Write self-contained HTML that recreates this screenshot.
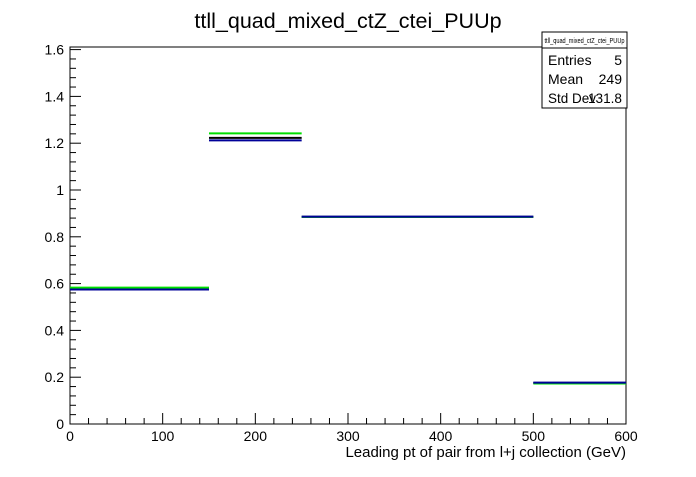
<!DOCTYPE html>
<html><head><meta charset="utf-8"><style>
body{margin:0;background:#fff;width:696px;height:472px;overflow:hidden}
svg text{font-family:"Liberation Sans",Arial,sans-serif}
</style></head><body>
<svg id="c" width="696" height="472" xmlns="http://www.w3.org/2000/svg">
<text x="348" y="28" font-size="21.5" text-anchor="middle">ttll_quad_mixed_ctZ_ctei_PUUp</text>
<rect x="70" y="47" width="556" height="377" fill="none" stroke="#000" stroke-width="1"/>
<g id="axes"></g>
<g id="marks"></g>
<text x="626" y="457" font-size="15" text-anchor="end">Leading pt of pair from l+j collection (GeV)</text>
<g>
<rect x="542" y="32" width="85" height="76" fill="#fff" stroke="#000"/>
<line x1="542" y1="48" x2="627" y2="48" stroke="#000"/>
<text x="584.5" y="43" font-size="7.5" text-anchor="middle" textLength="80" lengthAdjust="spacingAndGlyphs">ttll_quad_mixed_ctZ_ctei_PUUp</text>
<text x="548" y="65" font-size="14">Entries</text><text x="622" y="65" font-size="14" text-anchor="end">5</text>
<text x="548" y="84" font-size="14">Mean</text><text x="622" y="84" font-size="14" text-anchor="end">249</text>
<text x="548" y="103" font-size="14" textLength="48" lengthAdjust="spacingAndGlyphs">Std Dev</text><text x="622" y="103" font-size="14" text-anchor="end" textLength="34" lengthAdjust="spacingAndGlyphs">131.8</text>
</g>
</svg>
<script>
const binEdges=[0,150,250,500,600];
const blackVals=[0.578,1.223,0.885,0.176];
const greenVals=[0.583,1.242,0.885,0.173];
const blueVals=[0.575,1.212,0.886,0.177];
const xTicks=[0,100,200,300,400,500,600];
const yTicks=[0,0.2,0.4,0.6,0.8,1,1.2,1.4,1.6];
const yTickLabels=["0","0.2","0.4","0.6","0.8","1","1.2","1.4","1.6"];
const NS="http://www.w3.org/2000/svg";
const X=v=>70+v*(556/600);
const Y=v=>424-v*234;
function mk(t,a,p){const e=document.createElementNS(NS,t);for(const k in a)e.setAttribute(k,a[k]);p.appendChild(e);return e;}
const ax=document.getElementById('axes');
for(let v=0;v<=600;v+=20){const big=v%100===0;const l=mk('line',{x1:X(v),x2:X(v),y1:424,y2:big?413:418,stroke:'#000'},ax);

}
xTicks.forEach(v=>{const t=mk('text',{x:X(v),y:441,'font-size':14,'text-anchor':'middle'},ax);t.textContent=v;

});
for(let i=0;i<=40;i++){const v=i*0.04;if(Y(v)<47)break;const big=i%5===0;const l=mk('line',{x1:70,x2:big?81:76,y1:Y(v),y2:Y(v),stroke:'#000'},ax);

}
yTicks.forEach((v,i)=>{const t=mk('text',{x:64,y:Y(v)+5,'font-size':14,'text-anchor':'end'},ax);t.textContent=yTickLabels[i];

});
const mg=document.getElementById('marks');
[[blackVals,'#000','black'],[greenVals,'#00e000','green'],[blueVals,'#000099','blue']].forEach(([vals,col,nm])=>{
vals.forEach((v,i)=>{const l=mk('line',{x1:X(binEdges[i]),x2:X(binEdges[i+1]),y1:Y(v),y2:Y(v),stroke:col,'stroke-width':2},mg);

});
});
</script>
</body></html>
